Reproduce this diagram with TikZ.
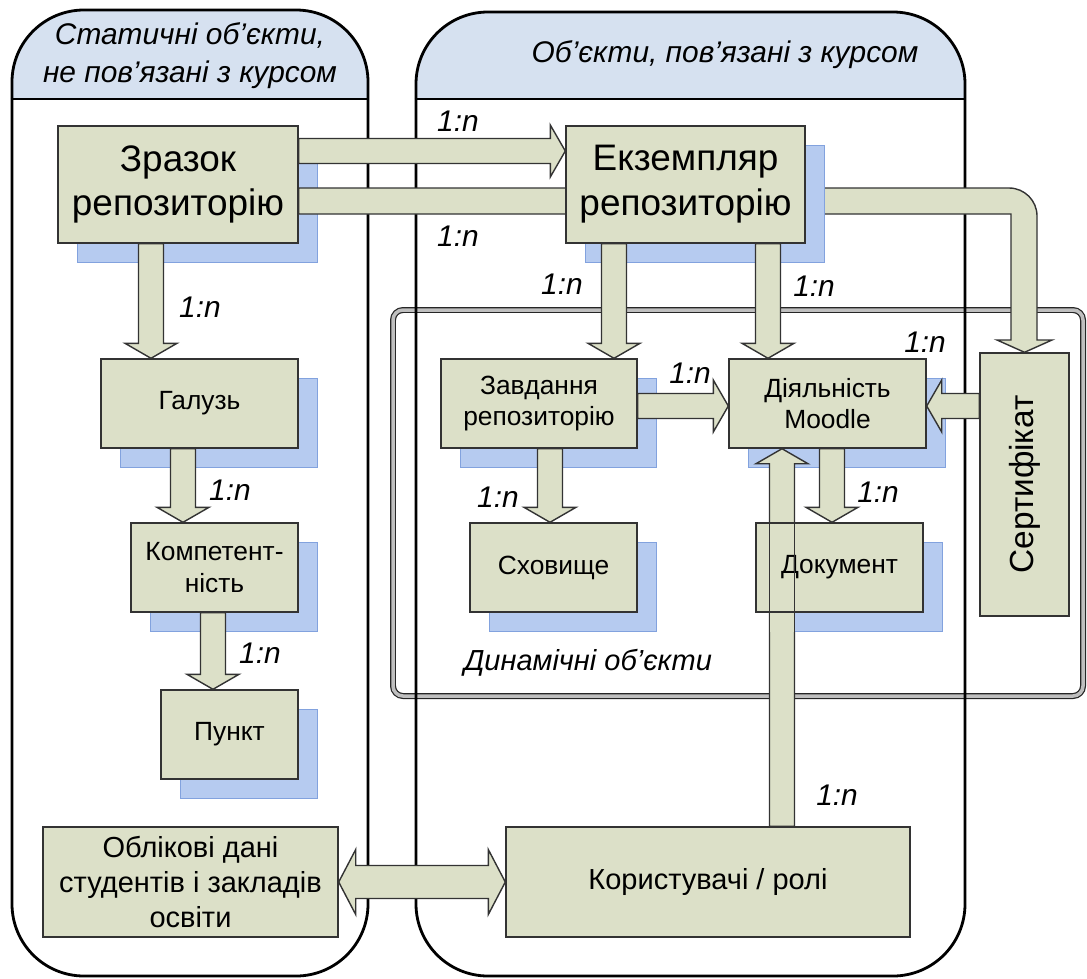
\documentclass[tikz,border=0pt]{standalone}
\usepackage{fontspec}
\setmainfont{Liberation Sans}
\usetikzlibrary{calc,shadows}
\definecolor{boxfill}{RGB}{220,224,200}
\definecolor{headfill}{RGB}{214,225,240}
\definecolor{shadowblue}{RGB}{182,203,240}
\definecolor{shadowline}{RGB}{130,162,222}
\newcommand{\pxu}{0.02cm}
\newcommand{\arrbw}{0.25cm}
\newcommand{\arrhw}{0.52cm}
\newcommand{\arrhl}{0.3cm}
\newcommand{\blockarrow}[2]{%
  \coordinate (ba-s) at #1;
  \coordinate (ba-e) at #2;
  \coordinate (ba-b) at ($(ba-e)!\arrhl!(ba-s)$);
  \filldraw[blockarr] ($(ba-s)!\arrbw!90:(ba-e)$) -- ($(ba-b)!\arrbw!-90:(ba-s)$)
    -- ($(ba-b)!\arrhw!-90:(ba-s)$) -- (ba-e) -- ($(ba-b)!\arrhw!90:(ba-s)$)
    -- ($(ba-b)!\arrbw!90:(ba-s)$) -- ($(ba-s)!\arrbw!-90:(ba-e)$) -- cycle;}
\newcommand{\dblockarrow}[2]{%
  \coordinate (da-s) at #1;
  \coordinate (da-e) at #2;
  \coordinate (da-bs) at ($(da-s)!0.34cm!(da-e)$);
  \coordinate (da-be) at ($(da-e)!0.34cm!(da-s)$);
  \filldraw[blockarr] (da-s) -- ($(da-bs)!0.65cm!90:(da-e)$) -- ($(da-bs)!0.33cm!90:(da-e)$)
    -- ($(da-be)!0.33cm!-90:(da-s)$) -- ($(da-be)!0.65cm!-90:(da-s)$) -- (da-e)
    -- ($(da-be)!0.65cm!90:(da-s)$) -- ($(da-be)!0.33cm!90:(da-s)$)
    -- ($(da-bs)!0.33cm!-90:(da-e)$) -- ($(da-bs)!0.65cm!-90:(da-e)$) -- cycle;}
\begin{document}
\begin{tikzpicture}[x=0.02cm,y=0.02cm,
  container/.style={draw=black,line width=1.6pt,rounded corners=1.44cm},
  headsep/.style={draw=black,line width=1.6pt},
  head/.style={font=\itshape\fontsize{17}{21.5}\selectfont,align=center,inner sep=0pt},
  dynframe/.style={draw=black!85,line width=0.7pt,double=gray!50,double distance=2pt,rounded corners=0.2cm},
  obj/.style={draw=black!80,line width=0.8pt,fill=boxfill,align=center,inner sep=1pt,
    font=\fontsize{15}{18}\selectfont},
  big/.style={font=\fontsize{21}{25.5}\selectfont},
  mid/.style={font=\fontsize{16.5}{20}\selectfont},
  shad/.style={drop shadow={shadow xshift=0.38cm,shadow yshift=-0.38cm,fill=shadowblue,
    draw=shadowline,line width=0.5pt,opacity=1}},
  blockarr/.style={draw=black!80,line width=0.8pt,fill=boxfill,line join=miter},
  card/.style={font=\itshape\fontsize{17}{20}\selectfont,inner sep=0pt}]
\useasboundingbox (0,0) rectangle (1087,-978);

% headers
\begin{scope}
\clip[rounded corners=1.44cm] (12,-10) rectangle (368,-976);
\fill[headfill] (12,-10) rectangle (368,-99);
\end{scope}
\begin{scope}
\clip[rounded corners=1.44cm] (416,-12) rectangle (965,-976);
\fill[headfill] (416,-12) rectangle (965,-99);
\end{scope}

\draw[dynframe] (393,-310) rectangle (1083,-696);

\node[container,minimum width=356*\pxu,minimum height=966*\pxu] (stat) at (190,-493) {};
\node[container,minimum width=549*\pxu,minimum height=964*\pxu] (course) at (690.5,-494) {};
\draw[headsep] (stat.west |- 0,-99) -- (stat.east |- 0,-99);
\draw[headsep] (course.west |- 0,-99) -- (course.east |- 0,-99);
\node[head] (stathead) at (190,-56) {Статичні об’єкти,\\не пов’язані з курсом};
\node[head] (coursehead) at (725,-55) {Об’єкти, пов’язані з курсом};
\node[head,font=\itshape\fontsize{16.5}{20}\selectfont] (dynhead) at (588,-663) {Динамічні об’єкти};

\node[obj,minimum width=89*\pxu,minimum height=263*\pxu,font=\fontsize{19}{22}\selectfont] (cert) at (1024.5,-484.5) {\rotatebox{90}{Сертифікат}};
\node[obj,big,shad,minimum width=240*\pxu,minimum height=117*\pxu] (zraz) at (178,-184.5) {Зразок\\репозиторію};
\filldraw[blockarr] (zraz.east |- 0,-188) -- (1009,-188) arc[start angle=90,end angle=0,radius=28]
  -- (1037,-340) -- (1052,-340) -- (cert.north) -- (997,-340) -- (1011,-340) -- (1011,-214)
  -- (zraz.east |- 0,-214) -- cycle;
\node[obj,big,shad,minimum width=239*\pxu,minimum height=117*\pxu] (ekz) at (685.5,-184.5) {Екземпляр\\репозиторію};
\node[obj,shad,minimum width=197*\pxu,minimum height=89*\pxu] (hal) at (199.5,-403.5) {Галузь};
\node[obj,shad,minimum width=167*\pxu,minimum height=89*\pxu] (komp) at (214.5,-567.5) {Компетент-\\ність};
\node[obj,shad,minimum width=137*\pxu,minimum height=89*\pxu] (punkt) at (229.5,-734.5) {Пункт};
\node[obj,mid,minimum width=295*\pxu,minimum height=110*\pxu] (oblik) at (190.5,-882) {Облікові дані\\студентів і закладів\\освіти};
\node[obj,mid,minimum width=404*\pxu,minimum height=110*\pxu] (users) at (708,-882) {Користувачі / ролі};
\node[obj,shad,minimum width=196*\pxu,minimum height=89*\pxu] (zav) at (539,-403.5) {Завдання\\репозиторію};
\node[obj,shad,minimum width=197*\pxu,minimum height=89*\pxu] (diyal) at (827.5,-403.5) {Діяльність\\Moodle};
\node[obj,shad,minimum width=167*\pxu,minimum height=89*\pxu] (skh) at (553.5,-567.5) {Сховище};
\blockarrow{(users.north -| 782,0)}{(diyal.south -| 782,0)}
\node[obj,shad,minimum width=167*\pxu,minimum height=89*\pxu] (doc) at (839.5,-567.5) {Документ};
\fill[boxfill] (doc.south -| 770,0) rectangle (794,-632);
\draw[blockarr] (doc.north -| 769.5,0) -- (769.5,-632) (doc.north -| 794.5,0) -- (794.5,-632);

\blockarrow{(zraz.east |- 0,-151)}{(ekz.west |- 0,-151)}
\blockarrow{(zraz.south -| 151,0)}{(hal.north -| 151,0)}
\blockarrow{(hal.south -| 183,0)}{(komp.north -| 183,0)}
\blockarrow{(komp.south -| 213,0)}{(punkt.north -| 213,0)}
\blockarrow{(ekz.south -| 614,0)}{(zav.north -| 614,0)}
\blockarrow{(ekz.south -| 768,0)}{(diyal.north -| 768,0)}
\blockarrow{(zav.east |- 0,-406)}{(diyal.west |- 0,-406)}
\blockarrow{(cert.west |- 0,-406)}{(diyal.east |- 0,-406)}
\blockarrow{(zav.south -| 550,0)}{(skh.north -| 550,0)}
\blockarrow{(diyal.south -| 832,0)}{(doc.north -| 832,0)}
\dblockarrow{(oblik.east)}{(users.west)}

\node[card] (c1) at (458,-121) {1:n};
\node[card] (c2) at (458,-236) {1:n};
\node[card] (c3) at (200,-307) {1:n};
\node[card] (c4) at (562,-284) {1:n};
\node[card] (c5) at (814,-286) {1:n};
\node[card] (c6) at (925,-342) {1:n};
\node[card] (c7) at (690,-373) {1:n};
\node[card] (c8) at (230,-490) {1:n};
\node[card] (c9) at (498,-497) {1:n};
\node[card] (c10) at (878,-492) {1:n};
\node[card] (c11) at (260,-653) {1:n};
\node[card] (c12) at (837,-795) {1:n};
\end{tikzpicture}
\end{document}
